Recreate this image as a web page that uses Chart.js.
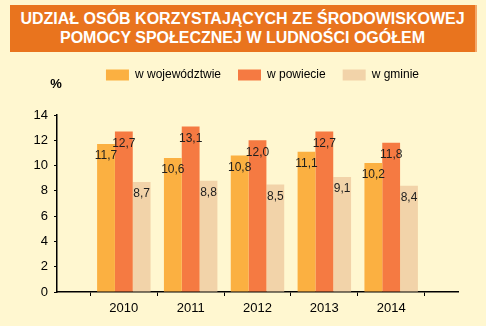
<!DOCTYPE html>
<html>
<head>
<meta charset="utf-8">
<script src="https://cdn.jsdelivr.net/npm/chart.js@4/dist/chart.umd.min.js"></script>
<style>
    html, body { margin: 0; padding: 0; }
    body { width: 486px; height: 326px; background: #fff7d0; position: relative; overflow: hidden; font-family: "Liberation Sans", Arial, sans-serif; }
    .banner { position: absolute; left: 10px; top: 5px; width: 467px; height: 47px; background: #e9741e; border-right: 2px solid #f3a86a; color: #fff; font-weight: bold; font-size: 16px; line-height: 18.5px; text-align: center; box-sizing: border-box; padding-top: 5px; }
    .chart-box { position: absolute; left: 0; top: 0; width: 486px; height: 326px; }
</style>
</head>
<body>
<div class="banner">UDZIAŁ OSÓB KORZYSTAJĄCYCH ZE ŚRODOWISKOWEJ<br>POMOCY SPOŁECZNEJ W LUDNOŚCI OGÓŁEM</div>
<div class="chart-box"><canvas id="chart"></canvas></div>
<script>
const years = ['2010', '2011', '2012', '2013', '2014'];
const wojewodztwo = [11.7, 10.6, 10.8, 11.1, 10.2];
const powiat = [12.7, 13.1, 12.0, 12.7, 11.8];
const gmina = [8.7, 8.8, 8.5, 9.1, 8.4];
const yTicks = [0, 2, 4, 6, 8, 10, 12, 14];

// empty slots at both ends, axis runs one category past the data on each side
const labels = [''].concat(years, ['']);
function pad(arr) {
    return [null].concat(arr, [null]);
}

function fmt(v) {
    return v.toFixed(1).replace('.', ',');
}

const extras = {
    id: 'extras',
    beforeInit(chart) {
        const fit = chart.legend.fit;
        chart.legend.fit = function () {
            fit.call(this);
            this.height += 24;
        };
    },
    afterDatasetsDraw(chart) {
        const ctx = chart.ctx;
        ctx.save();
        ctx.font = '12px "Liberation Sans", Arial, sans-serif';
        ctx.fillStyle = '#1e1e1e';
        ctx.textAlign = 'center';
        ctx.textBaseline = 'middle';
        chart.data.datasets.forEach((ds, i) => {
            chart.getDatasetMeta(i).data.forEach((bar, j) => {
                if (ds.data[j] == null) return;
                ctx.fillText(fmt(ds.data[j]), bar.x, bar.y + 12);
            });
        });
        // unit above the value axis
        const y = chart.scales.y;
        ctx.font = 'bold 13px "Liberation Sans", Arial, sans-serif';
        ctx.fillStyle = '#000';
        ctx.fillText('%', y.right - 1, y.top - 31);
        ctx.restore();
    }
};

const font13 = { family: '"Liberation Sans", Arial, sans-serif', size: 13 };

const chart = new Chart(document.getElementById('chart'), {
    type: 'bar',
    data: {
        labels: labels,
        datasets: [
            { label: 'w województwie', data: pad(wojewodztwo), backgroundColor: '#fbb041' },
            { label: 'w powiecie', data: pad(powiat), backgroundColor: '#f57a42' },
            { label: 'w gminie', data: pad(gmina), backgroundColor: '#f2d3a9' }
        ]
    },
    options: {
        responsive: true,
        maintainAspectRatio: false,
        animation: false,
        layout: {
            // legend row sits right of centre, hence the uneven side padding
            padding: { top: 52, left: 30, right: -9, bottom: 0 }
        },
        datasets: {
            bar: { barPercentage: 1, categoryPercentage: 0.8 }
        },
        scales: {
            x: {
                offset: false,
                grid: { drawOnChartArea: false, tickLength: 4, color: '#000', lineWidth: 1 },
                border: { color: '#000', width: 1.5 },
                ticks: { color: '#000', padding: 5, maxRotation: 0, autoSkip: false, font: font13 },
                afterFit(scale) { scale.height = 34; }
            },
            y: {
                min: yTicks[0],
                max: yTicks[yTicks.length - 1],
                afterBuildTicks(scale) {
                    scale.ticks = yTicks.map(v => ({ value: v }));
                },
                grid: { drawOnChartArea: false, tickLength: 3, color: '#000', lineWidth: 1 },
                border: { color: '#000', width: 1.5 },
                ticks: { color: '#000', padding: 6, font: font13 },
                afterFit(scale) { scale.width = 27; }
            },
            // empty spacer on the right so the plot ends short of the legend row
            spacer: {
                position: 'right',
                display: true,
                grid: { display: false },
                border: { display: false },
                ticks: { display: false },
                afterFit(scale) { scale.width = 37; }
            }
        },
        plugins: {
            legend: {
                position: 'top',
                labels: {
                    boxWidth: 23,
                    boxHeight: 11,
                    padding: 17,
                    color: '#000',
                    font: { family: '"Liberation Sans", Arial, sans-serif', size: 12 }
                }
            },
            tooltip: { enabled: false }
        }
    },
    plugins: [extras]
});
</script>
</body>
</html>
